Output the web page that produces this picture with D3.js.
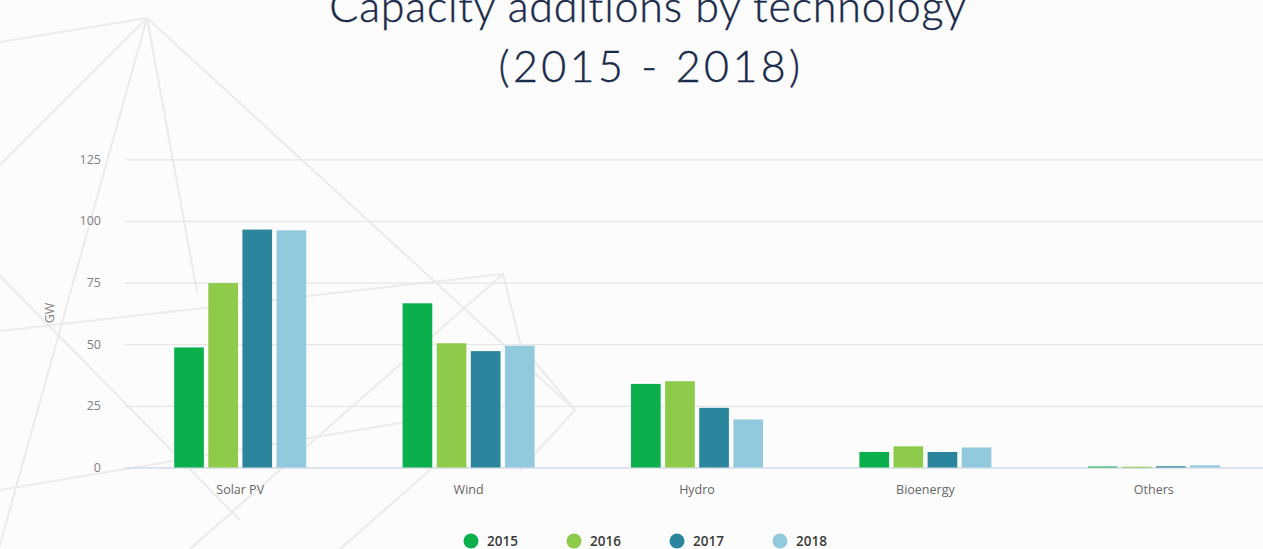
<!DOCTYPE html>
<html>
<head>
<meta charset="utf-8">
<script src="https://cdn.jsdelivr.net/npm/d3@7"></script>
<style>
  html, body { margin: 0; padding: 0; background: #fcfcfc; overflow: hidden; }
  svg { display: block; }
</style>
</head>
<body>
<svg id="chart" width="1263" height="549"></svg>
<script>
// ---- data ----
const categories = ["Solar PV", "Wind", "Hydro", "Bioenergy", "Others"];
const years = ["2015", "2016", "2017", "2018"];
const values2015 = [48.7, 66.6, 33.9, 6.3, 0.4];
const values2016 = [74.8, 50.4, 35.0, 8.6, 0.3];
const values2017 = [96.5, 47.2, 24.2, 6.3, 0.5];
const values2018 = [96.2, 49.4, 19.5, 8.1, 0.9];
const yTicks = [0, 25, 50, 75, 100, 125];
const titleLines = ["Capacity additions by technology", "(2015 - 2018)"];
const yAxisTitle = "GW";
const seriesColors = ["#0bb04d", "#8ecb4b", "#2b859c", "#93c9dd"];

const seriesValues = [values2015, values2016, values2017, values2018];

// faint decorative polygon network in the backdrop
const backdropSegments = [
  [[147, 18], [0, 42]],
  [[147, 18], [0, 165]],
  [[147, 18], [0, 545]],
  [[147, 18], [197, 292]],
  [[147, 18], [575, 410]],
  [[0, 276], [240, 520]],
  [[0, 331], [503, 274]],
  [[0, 490], [430, 418]],
  [[190, 549], [503, 274]],
  [[503, 274], [522, 350]],
  [[530, 356], [575, 410]],
  [[575, 410], [520, 470]],
  [[340, 549], [430, 470]]
];

const svg = d3.select("#chart");
const W = 1263, H = 549;

svg.append("rect").attr("width", W).attr("height", H).attr("fill", "#fcfcfc");

svg.append("g")
  .selectAll("line")
  .data(backdropSegments)
  .join("line")
  .attr("x1", d => d[0][0]).attr("y1", d => d[0][1])
  .attr("x2", d => d[1][0]).attr("y2", d => d[1][1])
  .attr("stroke", "#ececec")
  .attr("stroke-width", 2.2)
  .attr("stroke-linecap", "round");

// ---- title ----
const title = svg.append("g")
  .attr("font-family", "Lato, 'Open Sans', sans-serif")
  .attr("font-weight", 300)
  .attr("fill", "#1a2a4a")
  .attr("stroke", "#1a2a4a")
  .attr("stroke-width", 0.4)
  .attr("text-anchor", "middle");
title.append("text").attr("x", 648).attr("y", 22).attr("font-size", 43)
  .attr("letter-spacing", 0.8).text(titleLines[0]);
title.append("text").attr("x", 651).attr("y", 82).attr("font-size", 43)
  .attr("letter-spacing", 3.4).text(titleLines[1]);

// ---- scales ----
const plotLeft = 125, plotRight = 1268, plotTop = 159.3, plotBottom = 467.5;

const x0 = d3.scaleBand()
  .domain(categories)
  .range([plotLeft + 1, plotRight])
  .paddingInner(0.422)
  .paddingOuter(0.211);

const x1 = d3.scaleBand()
  .domain(years)
  .range([0, x0.bandwidth()])
  .paddingInner(0.13);

const y = d3.scaleLinear()
  .domain([0, 125])
  .range([plotBottom, plotTop]);

// ---- gridlines and y axis ----
const yAxis = svg.append("g")
  .attr("transform", `translate(${plotLeft},0)`)
  .call(d3.axisLeft(y).tickValues(yTicks).tickSize(-(W - plotLeft)).tickPadding(24));
yAxis.select(".domain").remove();
yAxis.selectAll(".tick line")
  .attr("stroke", d => d === 0 ? "#d3dbe8" : "#e6e6e6")
  .attr("stroke-width", d => d === 0 ? 1.6 : 1.2);
yAxis.selectAll(".tick text")
  .attr("fill", "#808080")
  .attr("font-family", "'Open Sans', sans-serif")
  .attr("font-size", 12.5);

svg.append("text")
  .attr("transform", "translate(54,313) rotate(-90)")
  .attr("text-anchor", "middle")
  .attr("font-family", "'Open Sans', sans-serif")
  .attr("font-size", 12.5)
  .attr("fill", "#808080")
  .text(yAxisTitle);

// ---- bars ----
const rows = categories.map((c, i) => ({
  category: c,
  items: years.map((yr, j) => ({ year: yr, value: seriesValues[j][i], color: seriesColors[j] }))
}));

svg.append("g")
  .selectAll("g")
  .data(rows)
  .join("g")
  .attr("transform", d => `translate(${x0(d.category)},0)`)
  .selectAll("rect")
  .data(d => d.items)
  .join("rect")
  .attr("x", d => x1(d.year))
  .attr("width", x1.bandwidth())
  .attr("y", d => y(d.value))
  .attr("height", d => Math.max(1, y(0) - y(d.value)))
  .attr("fill", d => d.color);

// ---- category labels ----
const xAxis = svg.append("g")
  .attr("transform", `translate(0,${plotBottom})`)
  .call(d3.axisBottom(x0).tickSize(0).tickPadding(18));
xAxis.select(".domain").remove();
xAxis.selectAll(".tick text")
  .attr("fill", "#666666")
  .attr("font-family", "'Open Sans', sans-serif")
  .attr("font-size", 12.5);

// ---- legend ----
const legendX = d3.scalePoint().domain(years).range([471, 780]);
const legend = svg.append("g")
  .selectAll("g")
  .data(years)
  .join("g")
  .attr("transform", d => `translate(${legendX(d)},541)`);
legend.append("circle").attr("r", 7.5).attr("fill", (d, i) => seriesColors[i]);
legend.append("text")
  .attr("x", 16).attr("y", 5)
  .attr("font-family", "'Open Sans', sans-serif")
  .attr("font-weight", 600)
  .attr("font-size", 13.5)
  .attr("fill", "#3a3a3a")
  .text(d => d);
</script>
</body>
</html>
